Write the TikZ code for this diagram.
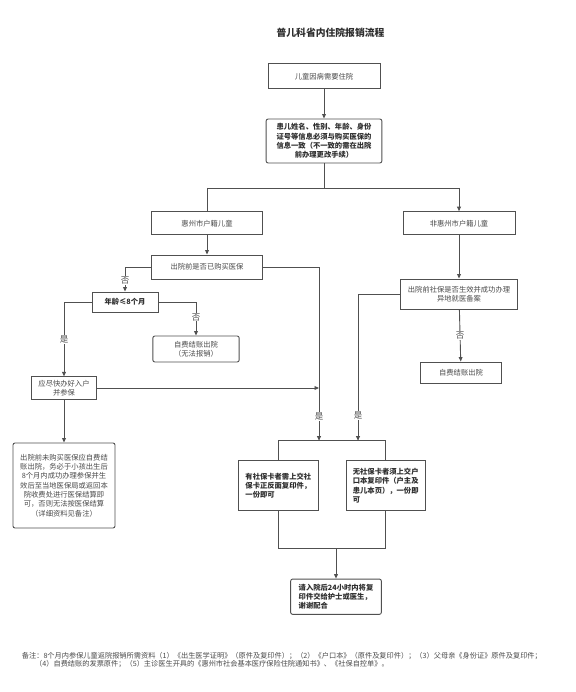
\documentclass[tikz,border=0pt]{standalone}
\usepackage{fontspec}
\setmainfont{Noto Sans CJK SC}
\usetikzlibrary{arrows.meta}
\definecolor{linec}{HTML}{505050}
\definecolor{txtn}{HTML}{4a4a4a}
\definecolor{txtb}{HTML}{2e2e2e}
\begin{document}
\begin{tikzpicture}[x=1pt,y=-1pt,
  box/.style={draw=linec,line width=0.9pt,fill=white,inner sep=0pt,align=center,
    text=txtn,font=\fontsize{7.3}{9.3}\selectfont},
  rbox/.style={box,rounded corners=2pt},
  bbox/.style={box,text=txtb,font=\fontsize{7.3}{9.3}\selectfont\bfseries},
  conn/.style={draw=linec,line width=0.9pt},
  arr/.style={conn,-{Triangle[length=4.5pt,width=3.8pt]}},
  lab/.style={fill=white,inner sep=0.6pt,text=txtn,font=\fontsize{8.5}{9}\selectfont}]
\useasboundingbox (0,0) rectangle (575,692);
\fill[white] (0,0) rectangle (575,692);

\node[font=\fontsize{9.8}{11}\selectfont\bfseries,text=txtb] (title) at (330.5,33) {普儿科省内住院报销流程};

\node[box,minimum width=112pt,minimum height=24.7pt] (b1) at (324,76.3) {儿童因病需要住院};
\node[bbox,rounded corners=2pt,minimum width=115.7pt,minimum height=44pt] (b2) at (324,141)
  {患儿姓名、性别、年龄、身份\\证号等信息必须与购买医保的\\信息一致（不一致的需在出院\\前办理更改手续）};
\node[box,minimum width=111.7pt,minimum height=23.3pt] (hz) at (207,223.3) {惠州市户籍儿童};
\node[box,minimum width=112pt,minimum height=23.3pt] (fhz) at (459,223.3) {非惠州市户籍儿童};
\node[box,minimum width=111.7pt,minimum height=24pt] (gm) at (207,267) {出院前是否已购买医保};
\node[box,minimum width=116.3pt,minimum height=30pt] (sb) at (459,294) {出院前社保是否生效并成功办理\\异地就医备案};
\node[box,minimum width=80.3pt,minimum height=21pt] (zf2) at (461,372.5) {自费结账出院};
\node[bbox,minimum width=66pt,minimum height=20pt] (age) at (125,302) {年龄≤8个月};
\node[rbox,minimum width=86.3pt,minimum height=26pt] (zf1) at (196,349) {自费结账出院\\（无法报销）};
\node[box,minimum width=65.7pt,minimum height=22.3pt] (rh) at (64,388) {应尽快办好入户\\并参保};
\node[rbox,minimum width=102pt,minimum height=85pt] (big) at (64,485.5)
  {出院前未购买医保应自费结\\账出院，务必于小孩出生后\\8个月内成功办理参保并生\\效后至当地医保局或返回本\\院收费处进行医保结算即\\可，否则无法按医保结算\\（详细资料见备注）};
\node[bbox,minimum width=80.7pt,minimum height=50pt,align=left] (ba) at (278.3,485.7)
  {有社保卡者需上交社\\保卡正反面复印件，\\一份即可};
\node[bbox,minimum width=79.3pt,minimum height=50pt,align=left] (bb) at (385.7,485.7)
  {无社保卡者须上交户\\口本复印件（户主及\\患儿本页），一份即\\可};
\node[bbox,rounded corners=2pt,minimum width=90.7pt,minimum height=35.3pt,align=left] (bc) at (336,596.7)
  {请入院后24小时内将复\\印件交给护士或医生，\\谢谢配合};

\node[anchor=west,inner sep=0pt,text=txtn,font=\fontsize{7.2}{8}\selectfont] (n1) at (21.7,655.7)
  {备注：8个月内参保儿童返院报销所需资料（1）《出生医学证明》（原件及复印件）；（2）《户口本》（原件及复印件）；（3）父母亲《身份证》原件及复印件；};
\node[anchor=west,inner sep=0pt,text=txtn,font=\fontsize{7.2}{8}\selectfont] (n2) at (35,664.3)
  {（4）自费结账的发票原件；（5）主诊医生开具的《惠州市社会基本医疗保险住院通知书》、《社保自控单》。};

% junction coordinates
\coordinate (j0) at (324,188);
\coordinate (jl) at (207,188);
\coordinate (jr) at (459,188);
\coordinate (c1) at (319,267);
\coordinate (t1) at (319,440.7);
\coordinate (m1) at (319,388);
\coordinate (c2) at (358,294);
\coordinate (t2) at (358,440.7);
\coordinate (barl) at (278.3,440.7);
\coordinate (barr) at (385.7,440.7);
\coordinate (botl) at (278.3,548.3);
\coordinate (botr) at (385.7,548.3);
\coordinate (botm) at (336,548.3);
\coordinate (cl) at (125,267);
\coordinate (ca) at (196,302);
\coordinate (cr) at (64,302);

\draw[arr] (b1) -- (b2);
\draw[conn] (b2) -- (j0);
\draw[conn] (jl) -- (jr);
\draw[conn] (jl) -- (hz.north);
\draw[arr] (jr) -- (fhz.north);
\draw[arr] (hz) -- (gm);
\draw[arr] (gm.east) -- (c1) -- (t1) node[lab,pos=0.86] {是};
\draw[arr] (gm.west) -- (cl) -- (age.north) node[lab,pos=0.55] {否};
\draw[arr] (age.east) -- (ca) -- (zf1.north) node[lab,pos=0.45] {否};
\draw[arr] (age.west) -- (cr) -- (rh.north) node[lab,pos=0.5] {是};
\draw[arr] (rh) -- (big);
\draw[arr] (rh.east) -- (m1);
\draw[arr] (fhz) -- (sb);
\draw[arr] (sb.west) -- (c2) -- (t2) node[lab,pos=0.83] {是};
\draw[arr] (sb) -- (zf2) node[lab,pos=0.5] {否};
\draw[conn] (barl) -- (barr);
\draw[conn] (barl) -- (ba.north);
\draw[conn] (barr) -- (bb.north);
\draw[conn] (ba.south) -- (botl) -- (botr) -- (bb.south);
\draw[arr] (botm) -- (bc.north);
\end{tikzpicture}
\end{document}
